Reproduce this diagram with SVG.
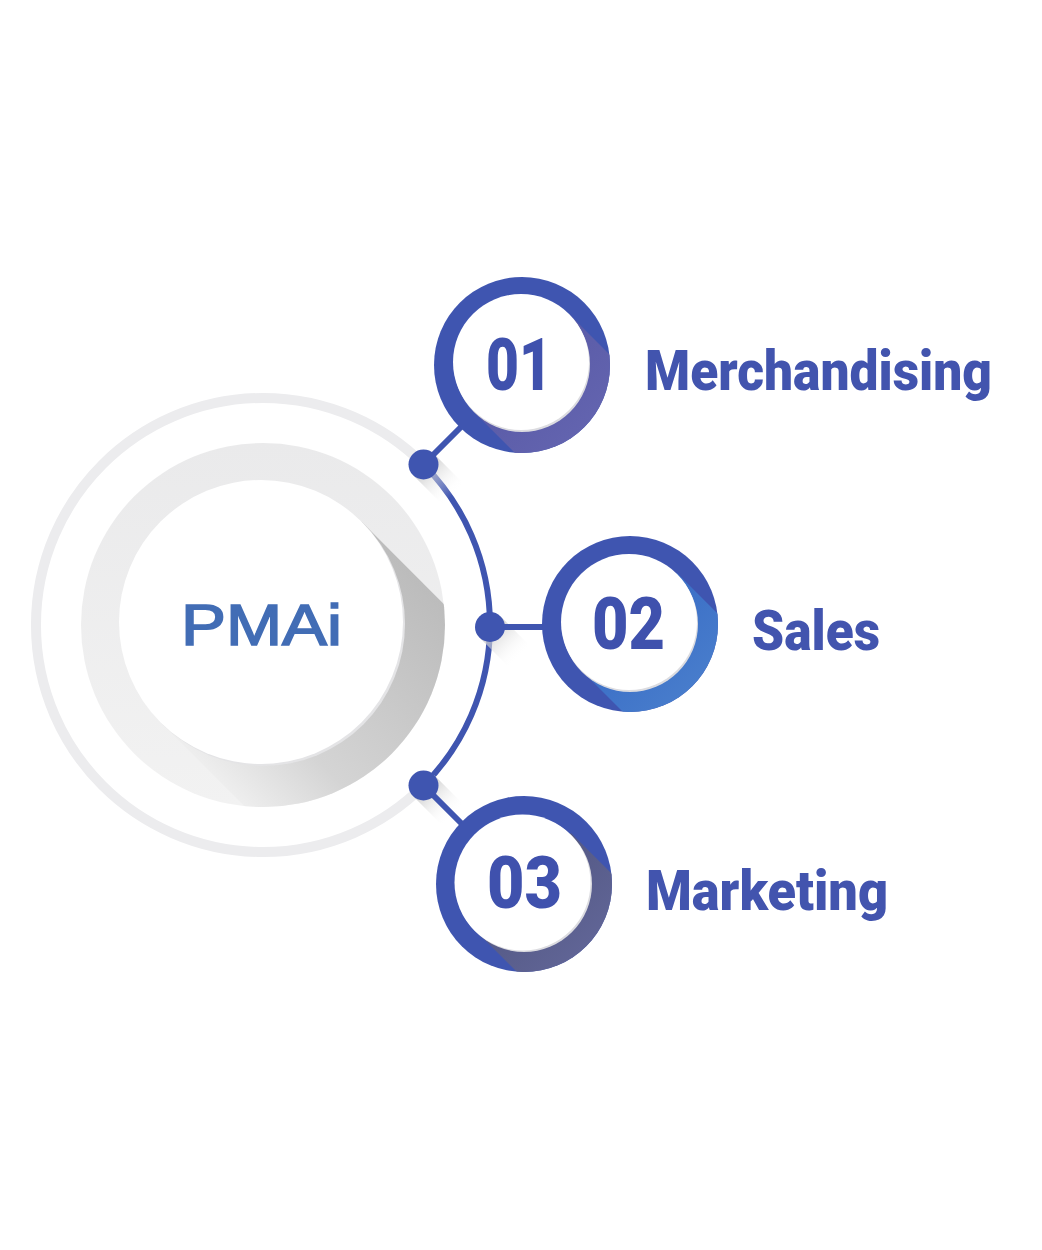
<svg xmlns="http://www.w3.org/2000/svg" width="1042" height="1250" viewBox="0 0 1042 1250">
<defs>
<style>
.num{font-family:Roboto,"Liberation Sans",sans-serif;font-weight:900;font-size:72px;fill:#3f51ad}
.lbl{font-family:Roboto,"Liberation Sans",sans-serif;font-weight:900;font-size:55px;fill:#4254ae}
.ring{fill:#3f55b0}
.rim{fill:#dcdce0}
.inner{fill:#ffffff}
.dot{fill:#3f55b0}
.conn{stroke:#3f55b0;stroke-width:6;fill:none}
</style>
<clipPath id="ringClip"><circle cx="0" cy="0" r="88"/></clipPath>
<clipPath id="discClip"><circle cx="0" cy="0" r="182"/></clipPath>
<linearGradient id="disc" x1="0" y1="0" x2="0" y2="1">
<stop offset="0" stop-color="#eaeaeb"/><stop offset="1" stop-color="#f2f2f2"/>
</linearGradient>
<linearGradient id="bigShadow" gradientUnits="userSpaceOnUse" x1="-100" y1="100" x2="100" y2="-100">
<stop offset="0" stop-color="#eeeeee"/><stop offset="0.3" stop-color="#d4d4d4"/><stop offset="1" stop-color="#bcbcbc"/>
</linearGradient>
<linearGradient id="sh1" gradientUnits="userSpaceOnUse" x1="0" y1="0" x2="88" y2="88">
<stop offset="0" stop-color="#5a5ba7"/><stop offset="1" stop-color="#6667b2"/>
</linearGradient>
<linearGradient id="sh2" gradientUnits="userSpaceOnUse" x1="0" y1="0" x2="88" y2="88">
<stop offset="0" stop-color="#3a6ec6"/><stop offset="1" stop-color="#4d82ce"/>
</linearGradient>
<linearGradient id="sh3" gradientUnits="userSpaceOnUse" x1="0" y1="0" x2="88" y2="88">
<stop offset="0" stop-color="#545985"/><stop offset="1" stop-color="#65699c"/>
</linearGradient>
<linearGradient id="dotSh" gradientUnits="userSpaceOnUse" x1="0" y1="0" x2="30" y2="30">
<stop offset="0" stop-color="#c4c4c4" stop-opacity="0.9"/><stop offset="1" stop-color="#ffffff" stop-opacity="0"/>
</linearGradient>
</defs>
<rect width="1042" height="1250" fill="#ffffff"/>

<g id="center" transform="translate(263,625)">
<path d="M160.5,160.5 A227,227 0 1 1 160.5,-160.5" fill="none" stroke="#ececee" stroke-width="10"/>
<circle cx="0" cy="0" r="182" fill="url(#disc)"/>
<g clip-path="url(#discClip)">
<path d="M98.4,-103.4 L398.4,196.6 L197.6,397.4 L-102.4,97.4 Z" fill="url(#bigShadow)"/>
</g>
<circle cx="0" cy="-1" r="142" fill="#e4e4e6"/>
<circle cx="-2" cy="-3" r="142" fill="#ffffff"/>
<text x="-82" y="20" textLength="161" lengthAdjust="spacingAndGlyphs" style="font-family:'Liberation Sans',Arial,sans-serif;font-size:57px;fill:#426db5;stroke:#426db5;stroke-width:1.6">PMAi</text>
</g>

<g id="connectors">
<path class="conn" d="M423.5,464.5 A227,227 0 0 1 423.5,785.5"/>
<g transform="translate(423.5,464.5)"><path d="M10.6,-10.6 L40,19 L19,40 L-10.6,10.6 Z" fill="url(#dotSh)"/></g>
<g transform="translate(490,627)"><path d="M10.6,-10.6 L40,19 L19,40 L-10.6,10.6 Z" fill="url(#dotSh)"/></g>
<g transform="translate(423.5,785.5)"><path d="M10.6,-10.6 L40,19 L19,40 L-10.6,10.6 Z" fill="url(#dotSh)"/></g>
<line class="conn" x1="423.5" y1="464.5" x2="480" y2="408"/>
<line class="conn" x1="490" y1="627" x2="560" y2="627"/>
<line class="conn" x1="423.5" y1="785.5" x2="480" y2="842"/>
<circle class="dot" cx="423.5" cy="464.5" r="15"/>
<circle class="dot" cx="490" cy="627" r="15"/>
<circle class="dot" cx="423.5" cy="785.5" r="15"/>
</g>

<g id="node01" transform="translate(522,365)">
<circle class="ring" r="88"/>
<g clip-path="url(#ringClip)"><path d="M47,-51 L197,99 L101,196 L-49,46 Z" fill="url(#sh1)"/></g>
<circle class="rim" cx="0" cy="-1" r="68"/>
<circle class="inner" cx="-1" cy="-3" r="68"/>
<text class="num" x="-36" y="25" textLength="66" lengthAdjust="spacingAndGlyphs">01</text>
</g>
<text class="lbl" x="645" y="390" textLength="347" lengthAdjust="spacingAndGlyphs">Merchandising</text>

<g id="node02" transform="translate(630,624)">
<circle class="ring" r="88"/>
<g clip-path="url(#ringClip)"><path d="M47,-51 L197,99 L101,196 L-49,46 Z" fill="url(#sh2)"/></g>
<circle class="rim" cx="0" cy="0" r="68"/>
<circle class="inner" cx="-1" cy="-2" r="68"/>
<text class="num" x="-38" y="25" textLength="73" lengthAdjust="spacingAndGlyphs">02</text>
</g>
<text class="lbl" x="752" y="650" textLength="128" lengthAdjust="spacingAndGlyphs">Sales</text>

<g id="node03" transform="translate(524,884)">
<circle class="ring" r="88"/>
<g clip-path="url(#ringClip)"><path d="M47,-51 L197,99 L101,196 L-49,46 Z" fill="url(#sh3)"/></g>
<circle class="rim" cx="0" cy="0" r="68"/>
<circle class="inner" cx="-1.5" cy="-1.5" r="68"/>
<text class="num" x="-37" y="24" textLength="75" lengthAdjust="spacingAndGlyphs">03</text>
</g>
<text class="lbl" x="646" y="910" textLength="242" lengthAdjust="spacingAndGlyphs">Marketing</text>
</svg>
